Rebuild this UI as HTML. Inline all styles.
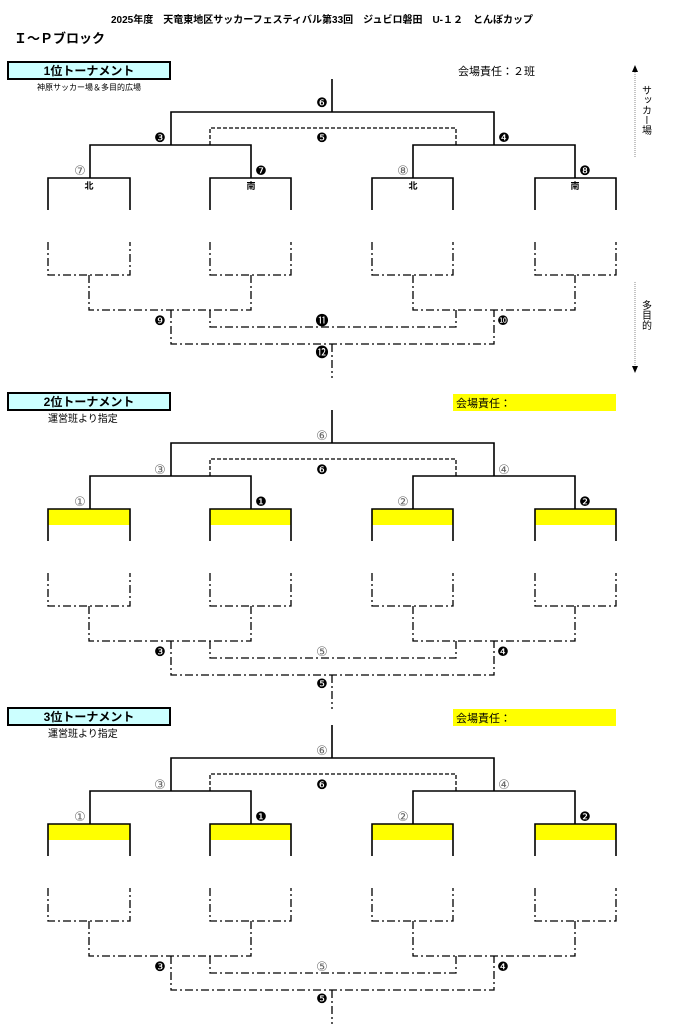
<!DOCTYPE html>
<html><head><meta charset="utf-8"><style>
body{margin:0;background:#fff}
svg{display:block}
text{font-family:"Liberation Sans","Noto Sans CJK JP",sans-serif}
.c{font-family:"DejaVu Sans","Noto Sans CJK JP",sans-serif;font-size:13px;text-anchor:middle}
.g{fill:#666}
.s{stroke:#000;stroke-width:1.6;fill:none}
.d{stroke:#000;stroke-width:1.3;fill:none;stroke-dasharray:4 2}
.dd{stroke:#000;stroke-width:1.3;fill:none;stroke-dasharray:8 3 2 3}
</style></head><body>
<svg width="675" height="1024" viewBox="0 0 675 1024" xmlns="http://www.w3.org/2000/svg">
<text x="322" y="23" font-size="10" font-weight="bold" text-anchor="middle">2025年度　天竜東地区サッカーフェスティバル第33回　ジュビロ磐田　U-１２　とんぼカップ</text>
<text x="14" y="43" font-size="13" font-weight="bold">Ｉ～Ｐブロック</text>

<defs>
<g id="br">
<path class="s" d="M332 79V112M171 145V112H494V145M90 178V145H251V178M413 178V145H575V178"/>
<path class="d" d="M210 145V128H456V145"/>
<path class="s" d="M48 210V178H130V210M210 210V178H291V210M372 210V178H453V210M535 210V178H616V210"/>
<path class="dd" d="M48 242V275H130V242M210 242V275H291V242M372 242V275H453V242M535 242V275H616V242"/>
<path class="dd" d="M89 275V310H251V275M413 275V310H575V275M171 310V344H494V310M210 310V327H456V310M332 344V378"/>
</g>
</defs>

<!-- Section 1 -->
<rect x="8" y="62" width="162" height="17" fill="#ccffff" stroke="#000" stroke-width="2"/>
<text x="89" y="75" font-size="12" font-weight="bold" text-anchor="middle">1位トーナメント</text>
<text x="89" y="90" font-size="8" text-anchor="middle">神原サッカー場＆多目的広場</text>
<text x="458" y="75" font-size="11">会場責任：２班</text>
<use href="#br"/>
<text x="89" y="189" font-size="9" font-weight="bold" text-anchor="middle">北</text>
<text x="251" y="189" font-size="9" font-weight="bold" text-anchor="middle">南</text>
<text x="413" y="189" font-size="9" font-weight="bold" text-anchor="middle">北</text>
<text x="575" y="189" font-size="9" font-weight="bold" text-anchor="middle">南</text>
<text class="c" x="322" y="107">❻</text>
<text class="c" x="160" y="142">❸</text><text class="c" x="322" y="142">❺</text><text class="c" x="504" y="142">❹</text>
<text class="c g" x="80" y="175">⑦</text><text class="c" x="261" y="175">❼</text>
<text class="c g" x="403" y="175">⑧</text><text class="c" x="585" y="175">❽</text>
<text class="c" x="160" y="325">❾</text><text class="c" x="322" y="325">⓫</text><text class="c" x="503" y="325">❿</text>
<text class="c" x="322" y="357">⓬</text>
<path d="M635 70V158M635 282V368" stroke="#888" stroke-width="1" stroke-dasharray="1 1"/>
<path d="M632 72L635 65L638 72Z M632 366L635 373L638 366Z" fill="#000"/>
<text x="645" y="85" font-size="10" writing-mode="tb">サッカー場</text>
<text x="645" y="300" font-size="10" writing-mode="tb">多目的</text>

<!-- Section 2 -->
<g transform="translate(0,331)">
<rect x="8" y="62" width="162" height="17" fill="#ccffff" stroke="#000" stroke-width="2"/>
<text x="89" y="75" font-size="12" font-weight="bold" text-anchor="middle">2位トーナメント</text>
<text x="48" y="91" font-size="10">運営班より指定</text>
<rect x="453" y="63" width="163" height="17" fill="#ffff00"/>
<text x="456" y="76" font-size="11">会場責任：</text>
<rect x="48" y="178" width="82" height="16" fill="#ffff00"/><rect x="210" y="178" width="81" height="16" fill="#ffff00"/>
<rect x="372" y="178" width="81" height="16" fill="#ffff00"/><rect x="535" y="178" width="81" height="16" fill="#ffff00"/>
<use href="#br"/>
<text class="c g" x="322" y="109">⑥</text>
<text class="c g" x="160" y="143">③</text><text class="c" x="322" y="143">❻</text><text class="c g" x="504" y="143">④</text>
<text class="c g" x="80" y="175">①</text><text class="c" x="261" y="175">❶</text>
<text class="c g" x="403" y="175">②</text><text class="c" x="585" y="175">❷</text>
<text class="c" x="160" y="325">❸</text><text class="c g" x="322" y="325">⑤</text><text class="c" x="503" y="325">❹</text>
<text class="c" x="322" y="357">❺</text>
</g>

<!-- Section 3 -->
<g transform="translate(0,646)">
<rect x="8" y="62" width="162" height="17" fill="#ccffff" stroke="#000" stroke-width="2"/>
<text x="89" y="75" font-size="12" font-weight="bold" text-anchor="middle">3位トーナメント</text>
<text x="48" y="91" font-size="10">運営班より指定</text>
<rect x="453" y="63" width="163" height="17" fill="#ffff00"/>
<text x="456" y="76" font-size="11">会場責任：</text>
<rect x="48" y="178" width="82" height="16" fill="#ffff00"/><rect x="210" y="178" width="81" height="16" fill="#ffff00"/>
<rect x="372" y="178" width="81" height="16" fill="#ffff00"/><rect x="535" y="178" width="81" height="16" fill="#ffff00"/>
<use href="#br"/>
<text class="c g" x="322" y="109">⑥</text>
<text class="c g" x="160" y="143">③</text><text class="c" x="322" y="143">❻</text><text class="c g" x="504" y="143">④</text>
<text class="c g" x="80" y="175">①</text><text class="c" x="261" y="175">❶</text>
<text class="c g" x="403" y="175">②</text><text class="c" x="585" y="175">❷</text>
<text class="c" x="160" y="325">❸</text><text class="c g" x="322" y="325">⑤</text><text class="c" x="503" y="325">❹</text>
<text class="c" x="322" y="357">❺</text>
</g>
</svg>
</body></html>
